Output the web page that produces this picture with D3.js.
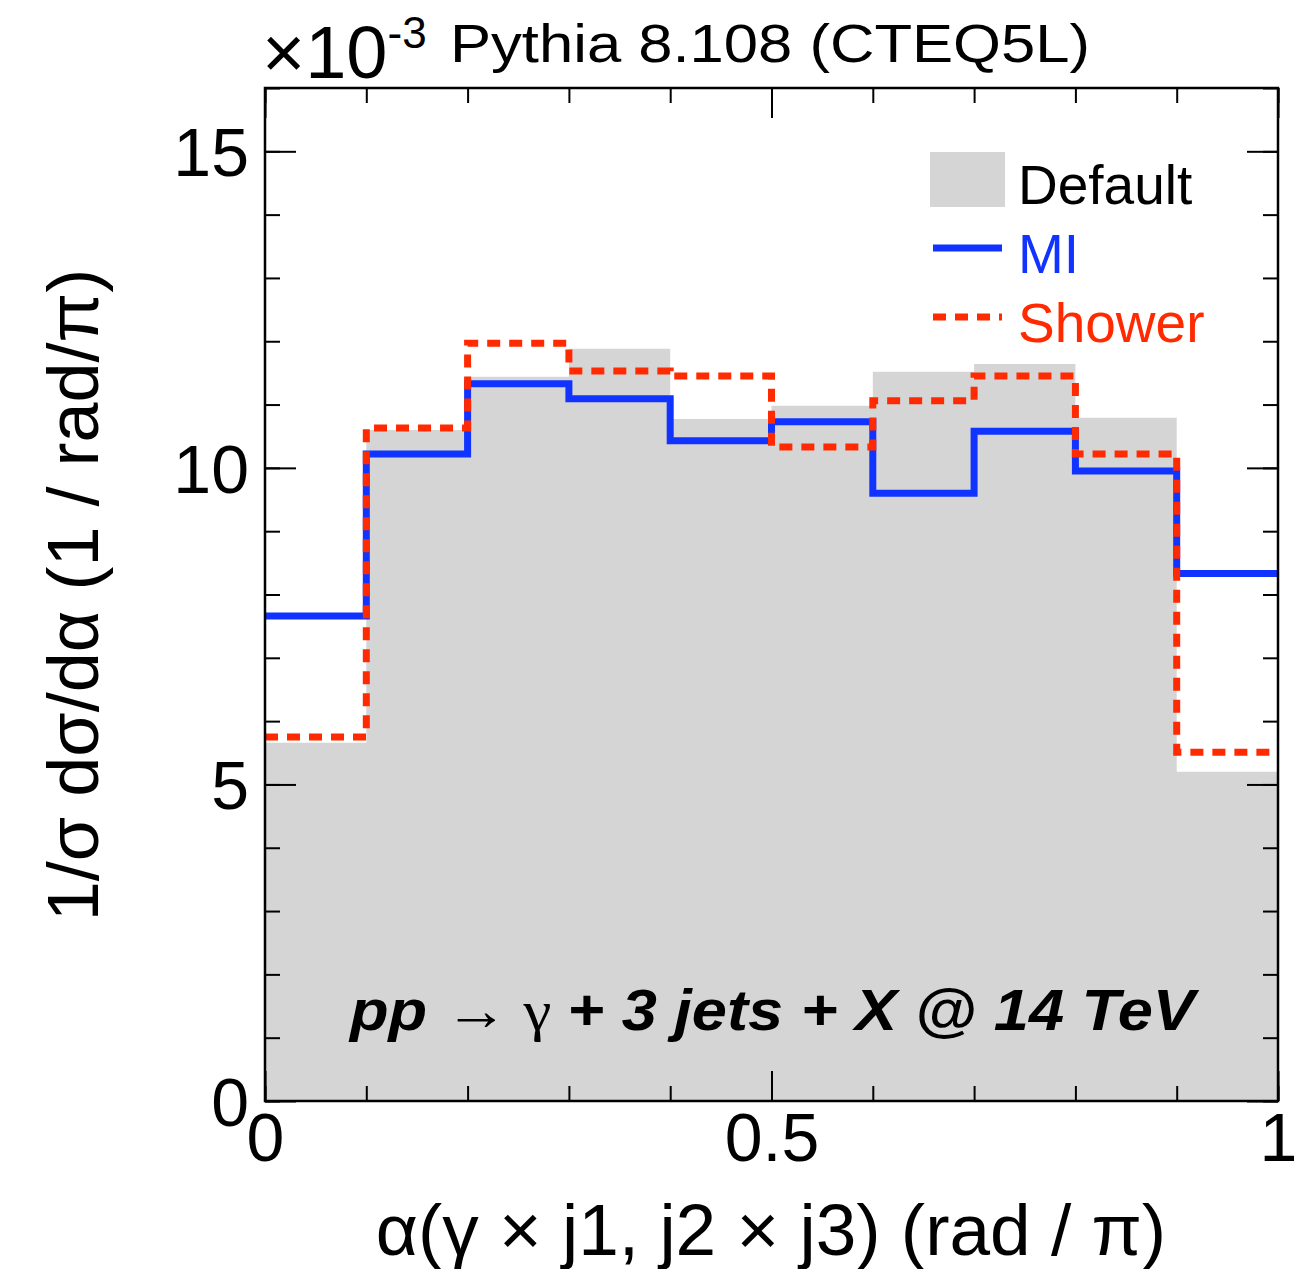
<!DOCTYPE html>
<html>
<head>
<meta charset="utf-8">
<script src="https://cdn.jsdelivr.net/npm/d3@7"></script>
<style>
  body { margin: 0; background: #fff; }
  text { font-family: "Liberation Sans", Arial, Helvetica, sans-serif; }
</style>
</head>
<body>
<div id="main"></div>
<script>
// bin edges (alpha / pi) and per-bin contents (x 1e-3)
var binEdges = [0, 0.1, 0.2, 0.3, 0.4, 0.5, 0.6, 0.7, 0.8, 0.9, 1.0];
var defaultVals = [5.66, 10.60, 11.44, 11.88, 10.77, 10.98, 11.52, 11.64, 10.79, 5.20];
var miVals      = [7.66, 10.22, 11.33, 11.09, 10.43, 10.73, 9.60, 10.58, 9.95, 8.33];
var showerVals  = [5.75, 10.63, 11.97, 11.53, 11.45, 10.33, 11.06, 11.45, 10.22, 5.51];

var yMajor = [0, 5, 10, 15];
var yMinor = d3.range(0, 17, 1);
var xMajor = [0, 0.5, 1];
var xMinor = d3.range(0, 1.01, 0.1);

var WIDTH = 1309, HEIGHT = 1269;
var margin = {left: 265, top: 88, right: 31, bottom: 168};
var w = WIDTH - margin.left - margin.right,
    h = HEIGHT - margin.top - margin.bottom;

var svg = d3.select("#main").append("svg")
	.attr("width", WIDTH)
	.attr("height", HEIGHT);

var canvas = svg.append("g")
	.attr("transform", "translate(" + margin.left + "," + margin.top + ")");

var x = d3.scaleLinear().domain([0, 1]).range([0, w]);
var y = d3.scaleLinear().domain([0, 16]).range([h, 0]);

function steps(vals) {
	var pts = vals.map(function(v, i) { return [binEdges[i], v]; });
	pts.push([binEdges[binEdges.length - 1], vals[vals.length - 1]]);
	return pts;
}

// filled default histogram
canvas.append("path")
	.datum(steps(defaultVals))
	.attr("fill", "#d5d5d5")
	.attr("d", d3.area().curve(d3.curveStepAfter)
		.x(function(d) { return x(d[0]); })
		.y0(y(0))
		.y1(function(d) { return y(d[1]); }));

var line = d3.line().curve(d3.curveStepAfter)
	.x(function(d) { return x(d[0]); })
	.y(function(d) { return y(d[1]); });

canvas.append("path")
	.datum(steps(miVals))
	.attr("fill", "none")
	.attr("stroke", "#1033ff")
	.attr("stroke-width", 7)
	.attr("d", line);

canvas.append("path")
	.datum(steps(showerVals))
	.attr("fill", "none")
	.attr("stroke", "#ff2a00")
	.attr("stroke-width", 7)
	.attr("stroke-dasharray", "13,9")
	.attr("d", line);

// axes (ticks point inward, ROOT style)
function styleAxis(g) {
	g.select(".domain").remove();
	g.selectAll(".tick line").attr("stroke", "#000").attr("stroke-width", 2);
}

canvas.append("g")
	.call(d3.axisLeft(y).tickValues(yMinor).tickSizeInner(-15).tickSizeOuter(0).tickFormat(""))
	.call(styleAxis);
canvas.append("g")
	.attr("class", "yaxis")
	.call(d3.axisLeft(y).tickValues(yMajor).tickSizeInner(-31).tickSizeOuter(0).tickPadding(16).tickFormat(d3.format("d")))
	.call(styleAxis)
	.selectAll("text")
		.attr("font-size", 68)
		.attr("fill", "#000")
		.attr("dy", "0.36em");

canvas.append("g")
	.attr("transform", "translate(" + w + ",0)")
	.call(d3.axisRight(y).tickValues(yMinor).tickSizeInner(-15).tickSizeOuter(0).tickFormat(""))
	.call(styleAxis);
canvas.append("g")
	.attr("transform", "translate(" + w + ",0)")
	.call(d3.axisRight(y).tickValues(yMajor).tickSizeInner(-31).tickSizeOuter(0).tickFormat(""))
	.call(styleAxis);

canvas.append("g")
	.attr("transform", "translate(0," + h + ")")
	.call(d3.axisBottom(x).tickValues(xMinor).tickSizeInner(-15).tickSizeOuter(0).tickFormat(""))
	.call(styleAxis);
canvas.append("g")
	.attr("transform", "translate(0," + h + ")")
	.call(d3.axisBottom(x).tickValues(xMajor).tickSizeInner(-30).tickSizeOuter(0).tickPadding(12).tickFormat(d3.format("")))
	.call(styleAxis)
	.selectAll("text")
		.attr("font-size", 68)
		.attr("fill", "#000");

canvas.append("g")
	.call(d3.axisTop(x).tickValues(xMinor).tickSizeInner(-15).tickSizeOuter(0).tickFormat(""))
	.call(styleAxis);
canvas.append("g")
	.call(d3.axisTop(x).tickValues(xMajor).tickSizeInner(-30).tickSizeOuter(0).tickFormat(""))
	.call(styleAxis);

// frame
canvas.append("rect")
	.attr("width", w)
	.attr("height", h)
	.attr("fill", "none")
	.attr("stroke", "#000")
	.attr("stroke-width", 2.5);

// exponent + title
var expo = svg.append("text").attr("x", 262).attr("y", 78).attr("font-size", 74).attr("fill", "#000");
expo.append("tspan").text("\u00d710");
expo.append("tspan").attr("dy", -30).attr("font-size", 44).text("-3");
svg.append("text")
	.attr("x", 450).attr("y", 62)
	.attr("font-size", 54)
	.attr("textLength", 640).attr("lengthAdjust", "spacingAndGlyphs")
	.text("Pythia 8.108 (CTEQ5L)");

// axis titles
svg.append("text")
	.attr("transform", "translate(98,595) rotate(-90)")
	.attr("text-anchor", "middle")
	.attr("font-size", 72)
	.text("1/\u03c3 d\u03c3/d\u03b1 (1 / rad/\u03c0)");
svg.append("text")
	.attr("x", 771).attr("y", 1255)
	.attr("text-anchor", "middle")
	.attr("font-size", 73)
	.text("\u03b1(\u03b3 \u00d7 j1, j2 \u00d7 j3) (rad / \u03c0)");

// legend
var legend = svg.append("g");
legend.append("rect")
	.attr("x", 930).attr("y", 152).attr("width", 75).attr("height", 55)
	.attr("fill", "#d5d5d5");
legend.append("text").attr("x", 1018).attr("y", 204).attr("font-size", 55).attr("fill", "#000").text("Default");
legend.append("line")
	.attr("x1", 933).attr("x2", 1002).attr("y1", 248).attr("y2", 248)
	.attr("stroke", "#1033ff").attr("stroke-width", 7);
legend.append("text").attr("x", 1018).attr("y", 273).attr("font-size", 55).attr("fill", "#1033ff").text("MI");
legend.append("line")
	.attr("x1", 933).attr("x2", 1002).attr("y1", 317).attr("y2", 317)
	.attr("stroke", "#ff2a00").attr("stroke-width", 7).attr("stroke-dasharray", "13,9");
legend.append("text").attr("x", 1018).attr("y", 342).attr("font-size", 55).attr("fill", "#ff2a00").text("Shower");

// process label
var proc = svg.append("text")
	.attr("x", 350).attr("y", 1030)
	.attr("font-size", 58).attr("font-weight", "bold").attr("font-style", "italic")
	.attr("textLength", 845).attr("lengthAdjust", "spacingAndGlyphs")
	.attr("fill", "#000");
proc.append("tspan").text("pp ");
proc.append("tspan").attr("font-weight", "normal").attr("font-style", "normal").attr("font-family", "Liberation Serif, serif").text("\u2192 \u03b3 ");
proc.append("tspan").text(" + 3 jets + X @ 14 TeV");
</script>
</body>
</html>
